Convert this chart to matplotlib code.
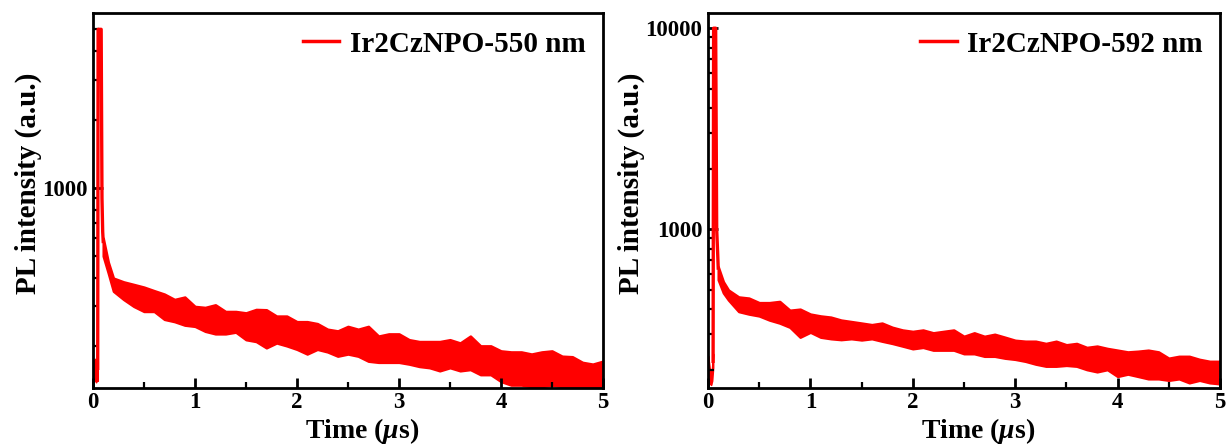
import matplotlib
matplotlib.use('Agg')
import matplotlib.pyplot as plt
from matplotlib.ticker import MultipleLocator, LogLocator, NullFormatter, FuncFormatter

plt.rcParams['font.family'] = ['Liberation Serif', 'DejaVu Serif']
plt.rcParams['font.weight'] = 'bold'
plt.rcParams['mathtext.fontset'] = 'custom'
plt.rcParams['mathtext.it'] = 'Liberation Serif:italic:bold'
plt.rcParams['mathtext.rm'] = 'Liberation Serif:bold'

# ---------------- data ----------------
labels = ["Ir2CzNPO-550 nm", "Ir2CzNPO-592 nm"]

# pre-pulse noise band
pre_t_550 = [0.0, 0.01, 0.02, 0.03, 0.04, 0.046]
pre_hi_550 = [175, 170, 176, 168, 174, 172]
pre_lo_550 = [142, 140, 145, 139, 143, 141]
pre_t_592 = [0.0, 0.01, 0.02, 0.03, 0.04, 0.05]
pre_hi_592 = [235, 215, 196, 190, 202, 240]
pre_lo_592 = [205, 182, 171, 168, 176, 205]

# excitation spike
spk_t_550 = [0.046, 0.05, 0.08, 0.088, 0.095, 0.1]
spk_v_550 = [160, 5000, 5000, 900, 640, 580]
spk_t_592 = [0.05, 0.055, 0.075, 0.085, 0.095, 0.1]
spk_v_592 = [220, 10000, 10000, 1000, 750, 640]

# decay noise band (upper / lower envelope)
band_t = [0.1, 0.15, 0.2, 0.3, 0.4, 0.5, 0.6, 0.7, 0.8, 0.9,
          1.0, 1.1, 1.2, 1.3, 1.4, 1.5, 1.6, 1.7, 1.8, 1.9,
          2.0, 2.1, 2.2, 2.3, 2.4, 2.5, 2.6, 2.7, 2.8, 2.9,
          3.0, 3.1, 3.2, 3.3, 3.4, 3.5, 3.6, 3.7, 3.8, 3.9,
          4.0, 4.1, 4.2, 4.3, 4.4, 4.5, 4.6, 4.7, 4.8, 4.9, 5.0]
hi_550 = [600, 470, 400, 385, 375, 365, 352, 340, 322, 330,
          300, 297, 305, 285, 285, 281, 291, 290, 272, 272,
          257, 257, 252, 238, 234, 245, 238, 245, 222, 227,
          227, 214, 210, 210, 210, 214, 207, 222, 201, 201,
          191, 189, 189, 185, 189, 191, 181, 180, 170, 167, 172]
lo_550 = [500, 420, 350, 322, 300, 285, 285, 263, 257, 248,
          245, 233, 227, 227, 231, 214, 210, 197, 207, 201,
          194, 185, 194, 189, 181, 185, 181, 172, 170, 170,
          170, 167, 163, 161, 156, 161, 156, 158, 150, 150,
          140, 135, 135, 133, 133, 135, 133, 132, 132, 132, 132]
hi_592 = [650, 548, 498, 460, 454, 431, 431, 437, 395, 400,
          378, 370, 365, 353, 347, 341, 335, 341, 325, 315,
          310, 315, 305, 310, 315, 293, 305, 293, 300, 290,
          280, 277, 277, 270, 277, 266, 270, 258, 262, 255,
          250, 245, 247, 250, 245, 228, 233, 233, 225, 220, 220]
lo_592 = [560, 482, 444, 389, 378, 370, 353, 341, 325, 290,
          307, 290, 285, 282, 285, 281, 285, 277, 270, 262,
          254, 258, 250, 250, 250, 240, 240, 233, 233, 228,
          225, 220, 213, 208, 208, 210, 208, 200, 195, 200,
          185, 190, 185, 180, 180, 177, 180, 172, 177, 172, 170]

ylims = [(131, 5900), (162, 11900)]
xticks = [0, 1, 2, 3, 4, 5]

RED = '#ff0000'

fig = plt.figure(figsize=(12.27, 4.46), dpi=100)
ax1 = fig.add_axes([0.0758, 0.130, 0.4156, 0.8408])
ax2 = fig.add_axes([0.5770, 0.130, 0.4173, 0.8408])

panels = [
    (ax1, pre_t_550, pre_hi_550, pre_lo_550, spk_t_550, spk_v_550, hi_550, lo_550, labels[0], ylims[0], -0.100),
    (ax2, pre_t_592, pre_hi_592, pre_lo_592, spk_t_592, spk_v_592, hi_592, lo_592, labels[1], ylims[1], -0.123),
]

for ax, pt, ph, pl, st, sv, hi, lo, lab, yl, ylx in panels:
    ax.fill_between(pt, pl, ph, color=RED, lw=1.2, edgecolor=RED)
    ax.fill_between(band_t, lo, hi, color=RED, lw=1.8, edgecolor=RED)
    ax.plot(st, sv, color=RED, lw=2.4)
    ax.plot([], [], color=RED, lw=2.5, label=lab)
    ax.set_yscale('log')
    ax.set_xlim(0, 5)
    ax.set_ylim(*yl)
    ax.set_xticks(xticks)
    ax.xaxis.set_minor_locator(MultipleLocator(0.5))
    ax.yaxis.set_major_locator(LogLocator(base=10))
    ax.yaxis.set_minor_locator(LogLocator(base=10, subs=[2, 3, 4, 5, 6, 7, 8, 9]))
    ax.yaxis.set_minor_formatter(NullFormatter())
    ax.yaxis.set_major_formatter(FuncFormatter(lambda v, p: f'{v:.0f}'))
    ax.tick_params(axis='both', which='both', direction='in', top=False, right=False)
    ax.tick_params(axis='both', which='major', length=7, width=2, labelsize=16.5)
    ax.tick_params(axis='both', which='minor', length=4, width=1.6)
    ax.tick_params(axis='x', which='major', pad=3)
    ax.tick_params(axis='y', which='major', pad=4)
    for s in ax.spines.values():
        s.set_linewidth(2)
    ax.set_xlabel(r'Time ($\mu$s)', fontsize=20, fontweight='bold')
    ax.xaxis.set_label_coords(0.527, -0.074)
    ax.set_ylabel('PL intensity (a.u.)', fontsize=21, fontweight='bold')
    ax.yaxis.set_label_coords(ylx, 0.545)
    ax.legend(loc='upper right', frameon=False, handlelength=1.25,
              handletextpad=0.35, borderaxespad=0.2, borderpad=0.4,
              prop={'weight': 'bold', 'size': 21})

fig.savefig('out.png', dpi=100)
